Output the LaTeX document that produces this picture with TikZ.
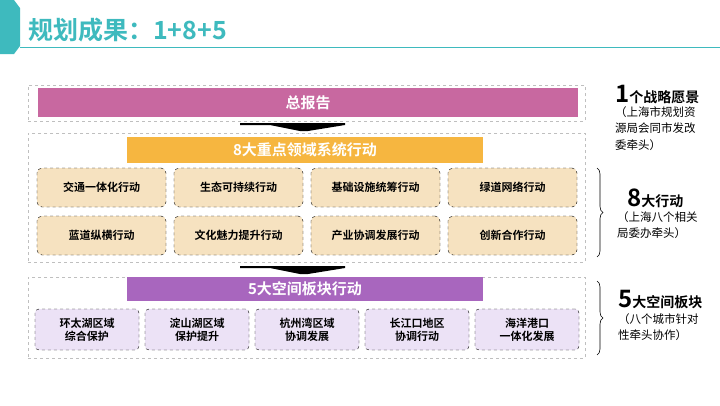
\documentclass[tikz,border=0pt]{standalone}
\usepackage{fontspec}
\newfontfamily\cjk{Noto Sans CJK SC}[BoldFont={* Bold}]
\usetikzlibrary{decorations.pathreplacing}
\definecolor{teal1}{RGB}{62,186,190}
\definecolor{pinkb}{RGB}{200,104,160}
\definecolor{orangeb}{RGB}{246,182,64}
\definecolor{purpleb}{RGB}{168,102,190}
\definecolor{beige}{RGB}{246,226,192}
\definecolor{lav}{RGB}{236,226,246}
\tikzset{x=1pt,y=-1pt,
 outer/.style={draw=gray!50,dashed,fill=white},
 bar/.style={text=white,font=\cjk\bfseries\fontsize{15}{15}\selectfont,inner sep=0},
 item/.style={draw=black,dashed,rounded corners=5pt,fill=beige,font=\cjk\bfseries\fontsize{11}{13}\selectfont,minimum width=129pt,minimum height=39pt,align=center},
 item2/.style={item,fill=lav,minimum width=104pt,minimum height=41pt,rounded corners=4pt},
 big/.style={font=\cjk\bfseries\fontsize{14}{14}\selectfont,anchor=west,inner sep=0},
 sub/.style={font=\cjk\fontsize{11.5}{16.5}\selectfont,align=left,anchor=north west,inner sep=0},
 arr/.style={fill=black}}
\begin{document}
\begin{tikzpicture}
\useasboundingbox (0,0) rectangle (720,405);
\fill[white] (0,0) rectangle (720,405);
\fill[teal1] (0,0) -- (14,0) -- (20,8) -- (20,46) -- (14,54) -- (0,54) -- cycle;
\node[anchor=west,text=teal1,font=\cjk\bfseries\fontsize{25}{25}\selectfont,inner sep=0] (title) at (28,30) {规划成果：1+8+5};
\draw[teal1,line width=0.8pt] (20,47) -- (720,47);
% box 1
\node[outer,minimum width=557pt,minimum height=36pt,anchor=north west] (b1) at (28,85) {};
\node[bar,fill=pinkb,minimum width=540pt,minimum height=29pt] (p1) at (308,102.5) {总报告};
\fill[black] (240,123) -- (345,123) -- (345,125) -- (308,131) -- (300,131) -- (270,125) -- (240,125) -- cycle;
% box 2
\node[outer,minimum width=557pt,minimum height=129pt,anchor=north west] (b2) at (28,133) {};
\node[bar,fill=orangeb,minimum width=356pt,minimum height=26pt] (p2) at (305,150) {8大重点领域系统行动};
\node[item] (a1) at (101.5,187.5) {交通一体化行动};
\node[item] (a2) at (238.5,187.5) {生态可持续行动};
\node[item] (a3) at (375.5,187.5) {基础设施统筹行动};
\node[item] (a4) at (512.5,187.5) {绿道网络行动};
\node[item] (a5) at (101.5,235.5) {蓝道纵横行动};
\node[item] (a6) at (238.5,235.5) {文化魅力提升行动};
\node[item] (a7) at (375.5,235.5) {产业协调发展行动};
\node[item] (a8) at (512.5,235.5) {创新合作行动};
\fill[black] (240,266) -- (345,266) -- (345,268) -- (308,274) -- (300,274) -- (270,268) -- (240,268) -- cycle;
% box 3
\node[outer,minimum width=557pt,minimum height=81pt,anchor=north west] (b3) at (28,277) {};
\node[bar,fill=purpleb,minimum width=356pt,minimum height=24pt] (p3) at (305,289) {5大空间板块行动};
\node[item2] (c1) at (87,329.5) {环太湖区域\\综合保护};
\node[item2] (c2) at (197,329.5) {淀山湖区域\\保护提升};
\node[item2] (c3) at (307,329.5) {杭州湾区域\\协调发展};
\node[item2] (c4) at (417,329.5) {长江口地区\\协调行动};
\node[item2] (c5) at (527,329.5) {海洋港口\\一体化发展};
% right
\node[big] (r1) at (615,95) {{\fontsize{24}{24}\selectfont 1}个战略愿景};
\node[sub] (s1) at (615,106) {（上海市规划资\\源局会同市发改\\委牵头）};
\draw[decorate,decoration={brace,amplitude=6pt},line width=0.6pt] (597,168) -- (597,257);
\draw[decorate,decoration={brace,amplitude=6pt},line width=0.6pt] (597,281) -- (597,355);
\node[big] (r2) at (627,198) {{\fontsize{24}{24}\selectfont 8}大行动};
\node[sub] (s2) at (617,211) {（上海八个相关\\局委办牵头）};
\node[big] (r3) at (618,300) {{\fontsize{24}{24}\selectfont 5}大空间板块};
\node[sub] (s3) at (618,313) {（八个城市针对\\性牵头协作）};
\end{tikzpicture}
\end{document}
